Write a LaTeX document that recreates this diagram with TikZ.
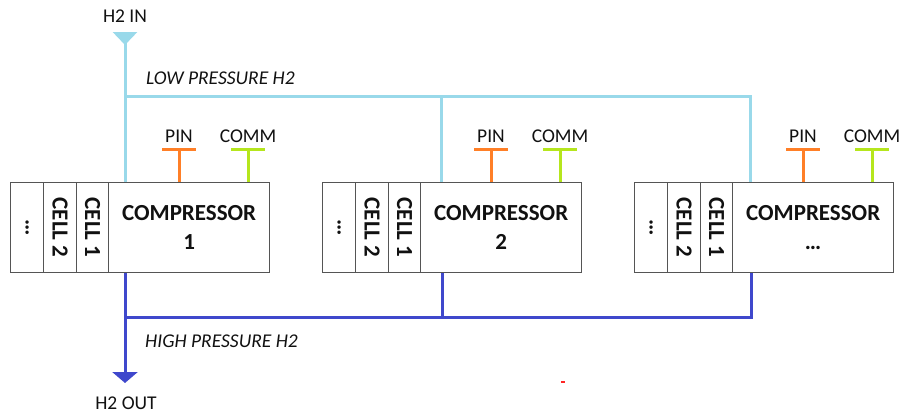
\documentclass[tikz,border=0pt]{standalone}
\usepackage{fontspec}
\setmainfont{Carlito}
\usetikzlibrary{arrows.meta}
\definecolor{lowp}{HTML}{99D9EA}
\definecolor{highp}{HTML}{3F48CC}
\definecolor{pinc}{HTML}{FF7F27}
\definecolor{commc}{HTML}{B5E61D}
\definecolor{boxline}{HTML}{555555}
\definecolor{ink}{HTML}{111111}
\begin{document}
\begin{tikzpicture}[x=1pt,y=-1pt,
  part/.style={draw=boxline, line width=1.3pt, minimum height=90pt, inner sep=0pt,
    anchor=north west, text=ink, font=\fontsize{23}{29}\selectfont\bfseries},
  cellbox/.style={part, minimum width=33pt},
  compbox/.style={part, minimum width=161pt, align=center},
  lbl/.style={font=\fontsize{19.5}{22}\selectfont, text=ink, inner sep=0pt},
  lowline/.style={lowp, line width=3pt},
  highline/.style={highp, line width=3pt},
  pinline/.style={pinc, line width=3pt},
  commline/.style={commc, line width=3pt}]
\useasboundingbox (0,0) rectangle (901,415);

% compressor units: stack cells, cells, compressor body, power and comm taps
\foreach \i/\x/\px/\cx/\lab in {1/10/179/248/1, 2/322/491/560/2, 3/634/803/872/\ldots}{
  \node[cellbox] (dots\i) at (\x,182) {\rotatebox{-90}{\ldots}};
  \node[cellbox] (celltwo\i) at (\x+33,182) {\rotatebox{-90}{CELL 2}};
  \node[cellbox, minimum width=32pt] (cellone\i) at (\x+66,182) {\rotatebox{-90}{CELL 1}};
  \node[compbox] (comp\i) at (\x+98,182) {COMPRESSOR\\\lab};
  \node[lbl, anchor=base] (pin\i) at (\px,142) {PIN};
  \node[lbl, anchor=base] (comm\i) at (\cx,142) {COMM};
  \coordinate (pb\i) at (\px,149);
  \coordinate (cb\i) at (\cx,149);
  \draw[pinline] ([xshift=-17pt]pb\i) -- ([xshift=17pt]pb\i);
  \draw[pinline] (pb\i) -- (pb\i |- comp\i.north);
  \draw[commline] ([xshift=-17pt]cb\i) -- ([xshift=17pt]cb\i);
  \draw[commline] (cb\i) -- (cb\i |- comp\i.north);
}

% low pressure supply
\node[lbl, anchor=base] (h2in) at (125,22) {H2 IN};
\coordinate (in) at (125,32);
\coordinate (lp1) at (125,96);
\coordinate (lp2) at (441,96);
\coordinate (lp3) at (750,96);
\draw[lowline, {Triangle[reversed,width=24pt,length=13pt]}-] (in) -- (in |- comp1.north);
\draw[lowline] (lp1) -- (lp3) -- (lp3 |- comp3.north);
\draw[lowline] (lp2) -- (lp2 |- comp2.north);
\node[lbl, anchor=base west, font=\fontsize{19.5}{22}\selectfont\itshape] (lowlbl) at (146,84) {LOW PRESSURE H2};

% high pressure collector
\coordinate (hp1) at (125,317);
\coordinate (hp2) at (442,317);
\coordinate (hp3) at (751,317);
\coordinate (out) at (125,383);
\draw[highline] (comp2.south -| hp2) -- (hp2);
\draw[highline] (comp3.south -| hp3) -- (hp3) -- (hp1);
\draw[highline, -{Triangle[width=25pt,length=11pt]}] (comp1.south -| hp1) -- (out);
\node[lbl, anchor=base west, font=\fontsize{19.5}{22}\selectfont\itshape] (highlbl) at (145,347) {HIGH PRESSURE H2};
\node[lbl, anchor=base] (h2out) at (126,409) {H2 OUT};

% stray red mark
\fill[red!85] (561,381) rectangle (565,383);
\end{tikzpicture}
\end{document}
